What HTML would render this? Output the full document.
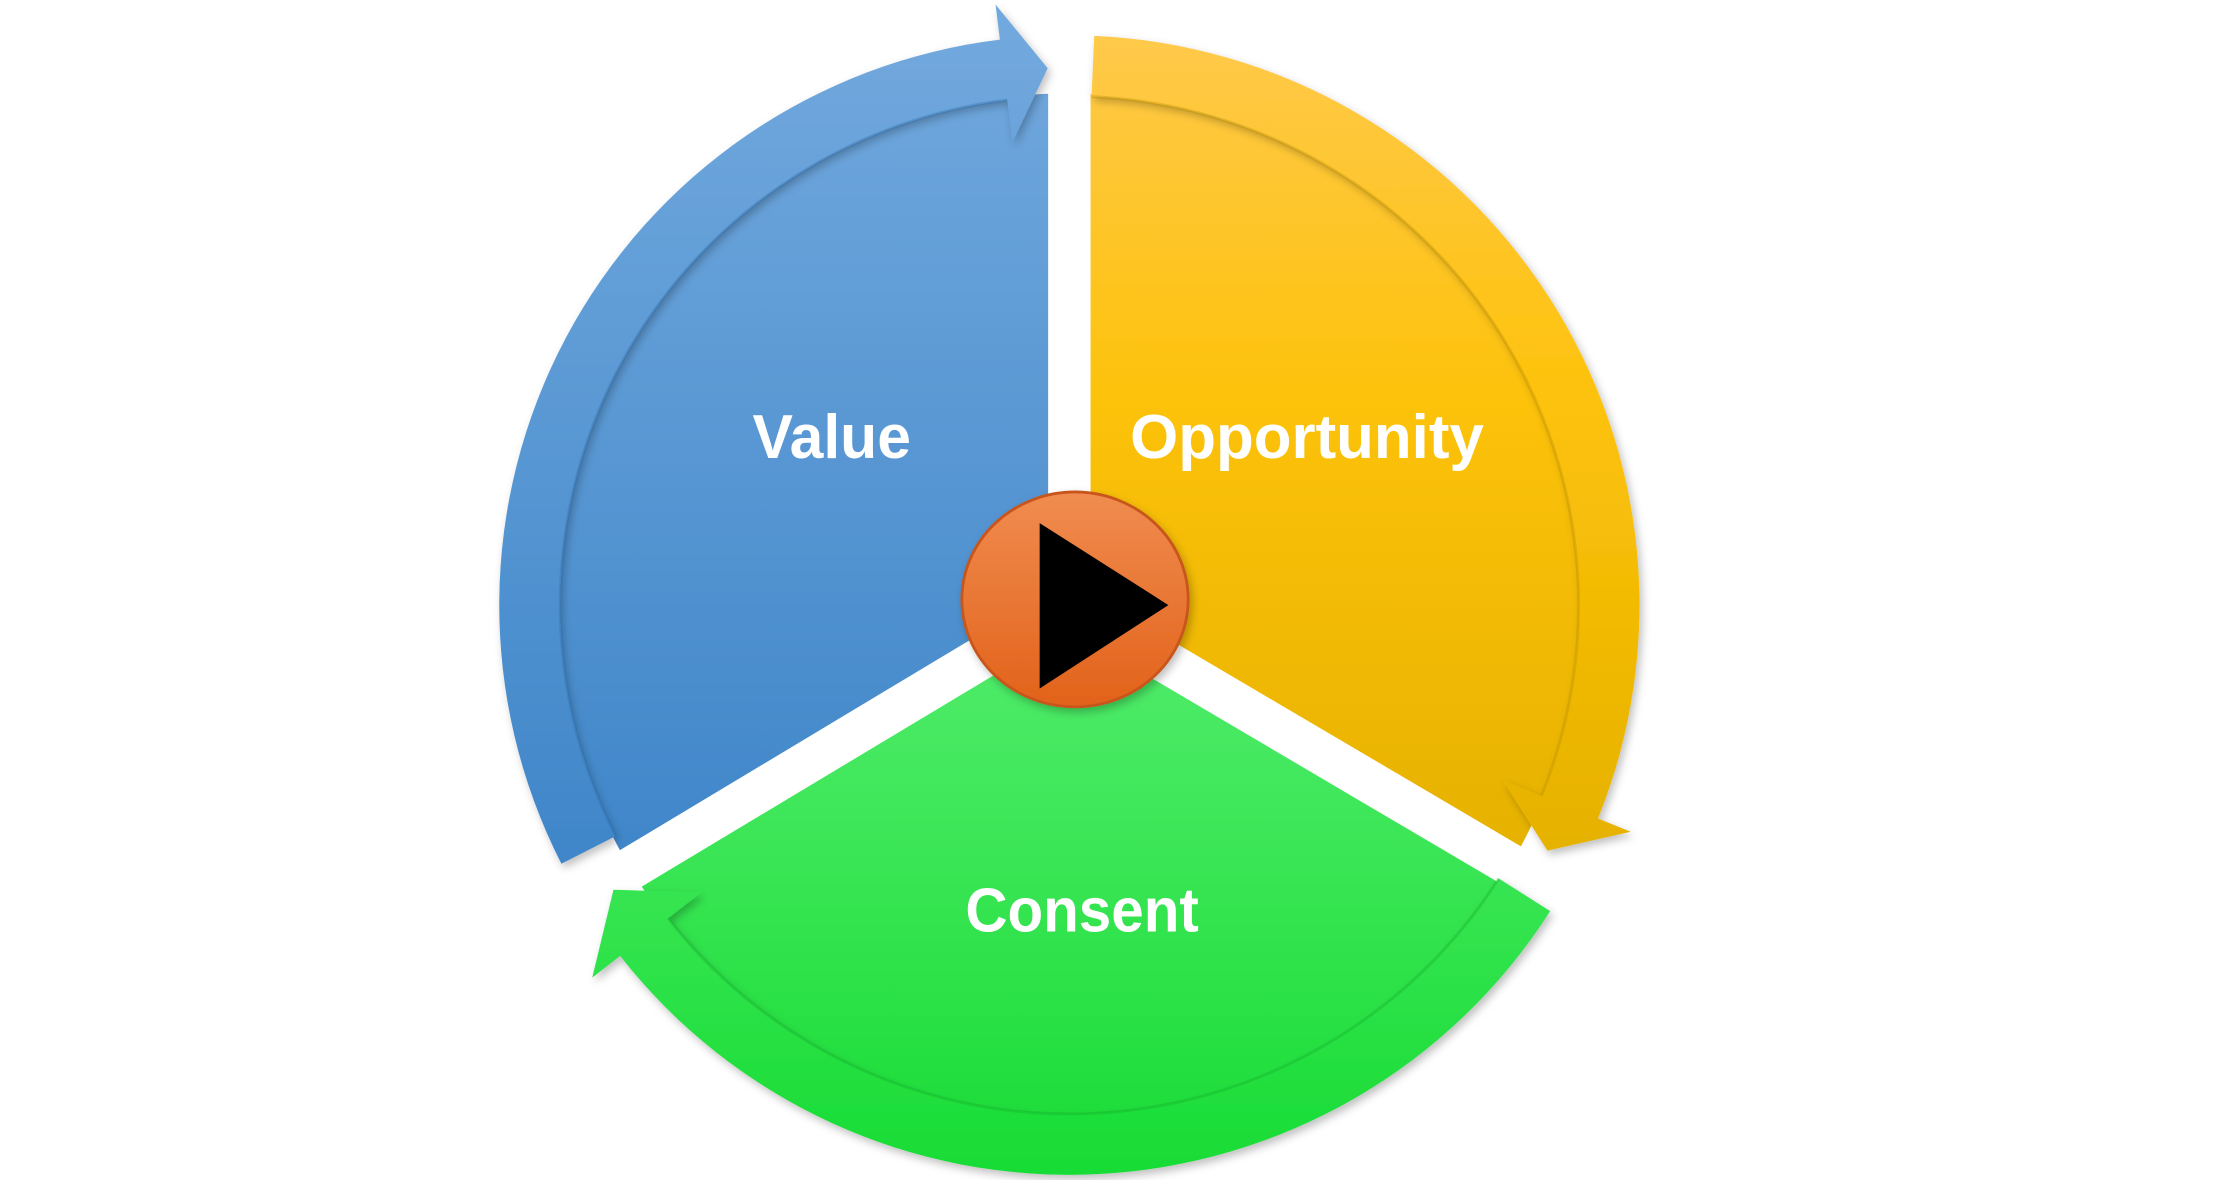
<!DOCTYPE html>
<html><head><meta charset="utf-8"><style>
html,body{margin:0;padding:0;background:#fff;overflow:hidden}
svg{display:block}
text{font-family:"Liberation Sans",sans-serif;font-weight:bold;fill:#fff}
</style></head><body>
<svg id="s" width="2213" height="1180" viewBox="0 0 1552 828" preserveAspectRatio="none" xmlns="http://www.w3.org/2000/svg">
<defs>
<linearGradient id="gb" gradientUnits="userSpaceOnUse" x1="0" y1="25" x2="0" y2="610"><stop offset="0" stop-color="#71a8dd"/><stop offset="1" stop-color="#3f86c9"/></linearGradient>
<linearGradient id="gy" gradientUnits="userSpaceOnUse" x1="0" y1="25" x2="0" y2="600"><stop offset="0" stop-color="#ffc94a"/><stop offset="0.45" stop-color="#fdc20a"/><stop offset="1" stop-color="#e6b200"/></linearGradient>
<linearGradient id="gg" gradientUnits="userSpaceOnUse" x1="0" y1="470" x2="0" y2="830"><stop offset="0" stop-color="#4eeb68"/><stop offset="1" stop-color="#18dc35"/></linearGradient>
<linearGradient id="go" gradientUnits="userSpaceOnUse" x1="0" y1="348" x2="0" y2="500"><stop offset="0" stop-color="#f08c50"/><stop offset="1" stop-color="#e2621a"/></linearGradient>
<filter id="sh" x="-10%" y="-10%" width="120%" height="120%"><feDropShadow dx="2" dy="3" stdDeviation="3" flood-color="#000" flood-opacity="0.25"/></filter>
</defs>
<g transform="scale(0.992)">
<g id="body"></g>
<text x="588" y="324" font-size="44" text-anchor="middle" textLength="112" lengthAdjust="spacingAndGlyphs">Value</text>
<text x="924" y="324" font-size="44" text-anchor="middle" textLength="250" lengthAdjust="spacingAndGlyphs">Opportunity</text>
<text x="765" y="659" font-size="44" text-anchor="middle" textLength="165" lengthAdjust="spacingAndGlyphs">Consent</text>
</g>
</svg>
<script>
var cx=756,cy=428,R2=403,R1=360;
function P(r,a){a=a*Math.PI/180;return (cx+r*Math.cos(a)).toFixed(1)+","+(cy+r*Math.sin(a)).toFixed(1);}
function wedge(a0,a1,f){return '<path d="M'+cx+','+cy+' L'+P(R1+2,a0)+' A'+(R1+2)+','+(R1+2)+' 0 0 1 '+P(R1+2,a1)+' Z" fill="'+f+'"/>';}
function band(a0,a1,tip,f,st){
 var d='M'+P(R2,a0)+' A'+R2+','+R2+' 0 0 1 '+P(R2,a1)+' L'+P(428,a1)+' L'+P(380,tip)+' L'+P(330,a1)+' L'+P(R1,a1)+' A'+R1+','+R1+' 0 0 0 '+P(R1,a0)+' Z';
 return '<path d="'+d+'" fill="'+f+'" filter="url(#sh)"/>'+
 '<path d="M'+P(R1,a0)+' A'+R1+','+R1+' 0 0 1 '+P(R1,a1)+'" fill="none" stroke="'+st+'" stroke-width="2" opacity="0.35"/>';
}
function gap(a){var p=P(460,a).split(",");return '<line x1="'+cx+'" y1="'+cy+'" x2="'+p[0]+'" y2="'+p[1]+'" stroke="#fff" stroke-width="30"/>';}
var h='';
h+=wedge(150,270,'url(#gb)')+wedge(270,390,'url(#gy)')+wedge(30,150,'url(#gg)');
h+=gap(-90)+gap(30.5)+gap(149);
h+=band(153,263,267.7,'url(#gb)','#2f6fae');
h+=band(-87.5,22,27.2,'url(#gy)','#b98f00');
h+=band(32.5,142,148,'url(#gg)','#13b02c');
h+='<ellipse cx="760" cy="424" rx="80" ry="76" fill="url(#go)" stroke="#c8561a" stroke-width="2" filter="url(#sh)"/>';
h+='<polygon points="735,370 826,428 735,487" fill="#000"/>';
document.getElementById('body').innerHTML=h;
</script>
</body></html>
